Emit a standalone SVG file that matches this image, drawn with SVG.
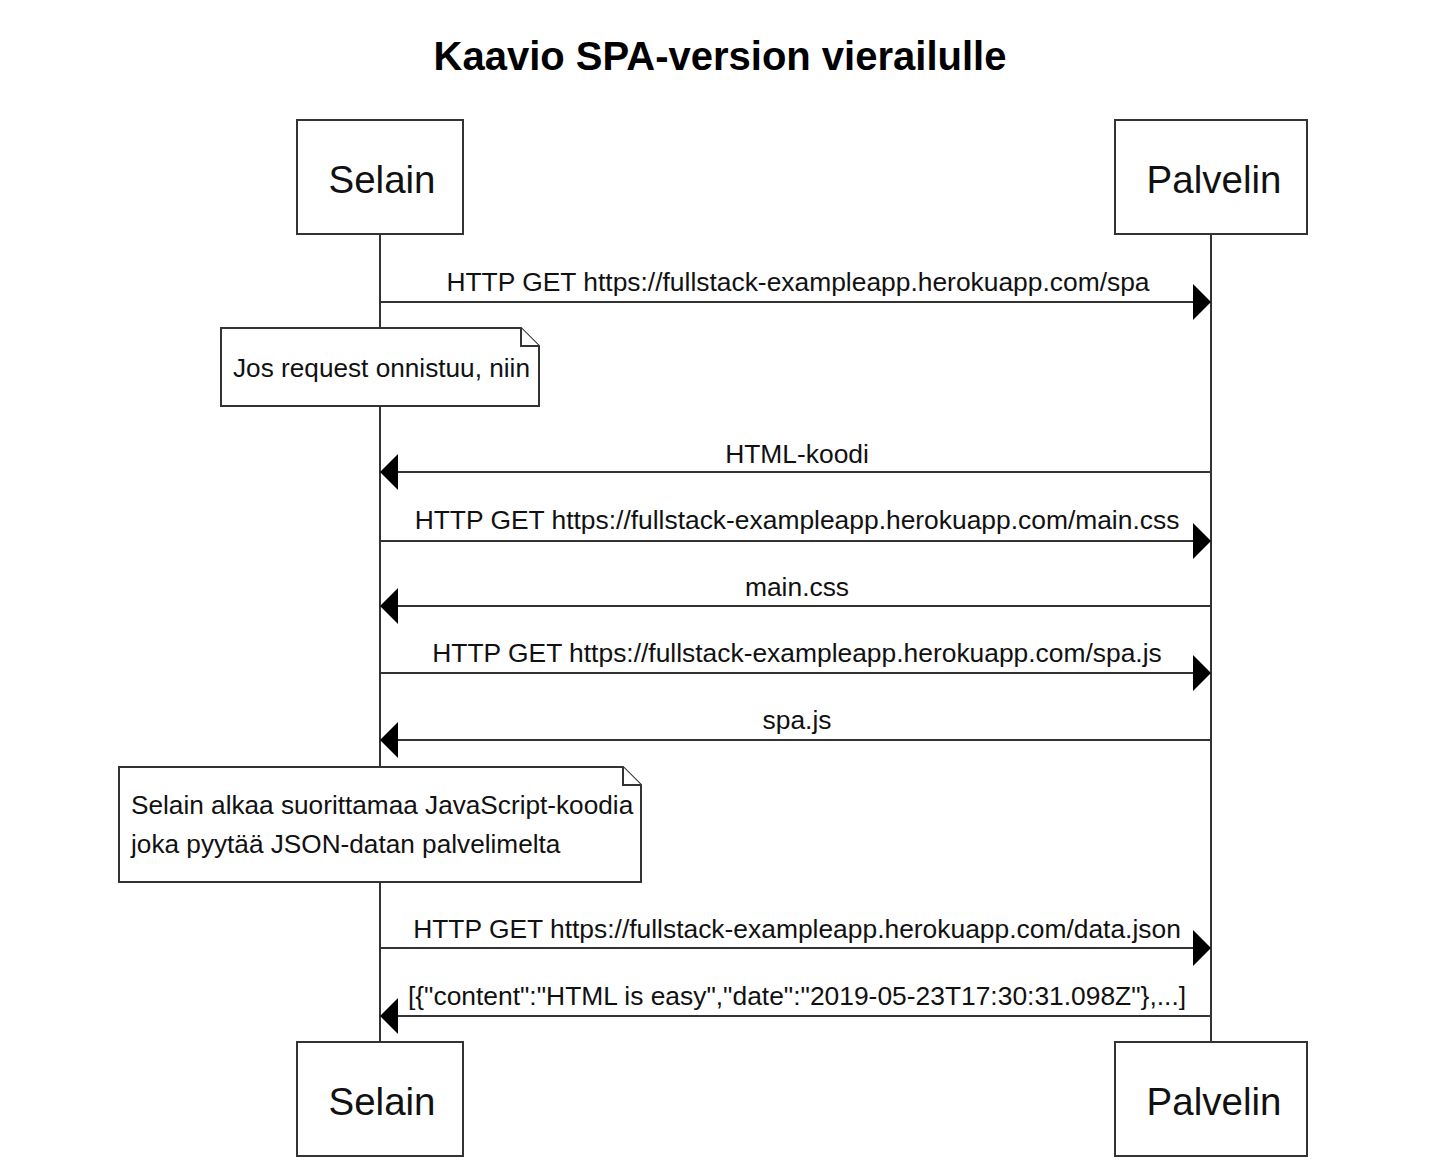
<svg xmlns="http://www.w3.org/2000/svg" width="1442" height="1174" viewBox="0 0 1442 1174">
<defs>
<marker id="ah" markerWidth="18" markerHeight="36" refX="18" refY="18" orient="auto" markerUnits="userSpaceOnUse">
<path d="M0,0 L18,18 L0,36 Z" fill="#000"/>
</marker>
<style>
.box{fill:#fff;stroke:#333;stroke-width:2}
.life{stroke:#333;stroke-width:2}
.msg{stroke:#333;stroke-width:2;fill:none;marker-end:url(#ah)}
.pt{font-family:"Liberation Sans",Arial,sans-serif;font-size:38.5px;fill:#111;text-anchor:middle}
.ml{font-family:"Liberation Sans",Arial,sans-serif;font-size:26.4px;fill:#111;text-anchor:middle}
.nt{font-family:"Liberation Sans",Arial,sans-serif;font-size:26.2px;fill:#111}
.title{font-family:"Liberation Sans",Arial,sans-serif;font-size:40px;font-weight:bold;fill:#000;text-anchor:middle}
</style>
</defs>
<rect width="1442" height="1174" fill="#fff"/>
<text class="title" x="720" y="70">Kaavio SPA-version vierailulle</text>
<g id="lifelines">
<line class="life" x1="380" y1="234" x2="380" y2="1042"/>
<line class="life" x1="1211" y1="234" x2="1211" y2="1042"/>
</g>
<g id="selain-top"><rect class="box" x="297" y="120" width="166" height="114"/><text class="pt" x="382" y="193">Selain</text></g>
<g id="palvelin-top"><rect class="box" x="1115" y="120" width="192" height="114"/><text class="pt" x="1214" y="193">Palvelin</text></g>
<g id="selain-bottom"><rect class="box" x="297" y="1042" width="166" height="114"/><text class="pt" x="382" y="1115">Selain</text></g>
<g id="palvelin-bottom"><rect class="box" x="1115" y="1042" width="192" height="114"/><text class="pt" x="1214" y="1115">Palvelin</text></g>
<g id="note1">
<path class="box" d="M221,328 H521 L539,346 V406 H221 Z"/>
<path class="box" d="M521,328 V346 H539" fill="none"/>
<text class="nt" x="233" y="377">Jos request onnistuu, niin</text>
</g>
<g id="note2">
<path class="box" d="M119,767 H623 L641,785 V882 H119 Z"/>
<path class="box" d="M623,767 V785 H641" fill="none"/>
<text class="nt" x="131" y="814">Selain alkaa suorittamaa JavaScript-koodia</text>
<text class="nt" x="131" y="853">joka pyytää JSON-datan palvelimelta</text>
</g>
<g id="connectors">
<line class="msg" x1="380" y1="302" x2="1211" y2="302"/>
<text class="ml" x="798" y="291">HTTP GET https://fullstack-exampleapp.herokuapp.com/spa</text>
<line class="msg" x1="1211" y1="472" x2="380" y2="472"/>
<text class="ml" x="797" y="463">HTML-koodi</text>
<line class="msg" x1="380" y1="541" x2="1211" y2="541"/>
<text class="ml" x="797" y="529">HTTP GET https://fullstack-exampleapp.herokuapp.com/main.css</text>
<line class="msg" x1="1211" y1="606" x2="380" y2="606"/>
<text class="ml" x="797" y="596">main.css</text>
<line class="msg" x1="380" y1="673" x2="1211" y2="673"/>
<text class="ml" x="797" y="662">HTTP GET https://fullstack-exampleapp.herokuapp.com/spa.js</text>
<line class="msg" x1="1211" y1="740" x2="380" y2="740"/>
<text class="ml" x="797" y="729">spa.js</text>
<line class="msg" x1="380" y1="948" x2="1211" y2="948"/>
<text class="ml" x="797" y="938">HTTP GET https://fullstack-exampleapp.herokuapp.com/data.json</text>
<line class="msg" x1="1211" y1="1016" x2="380" y2="1016"/>
<text class="ml" x="797" y="1005">[{"content":"HTML is easy","date":"2019-05-23T17:30:31.098Z"},...]</text>
</g>
</svg>
